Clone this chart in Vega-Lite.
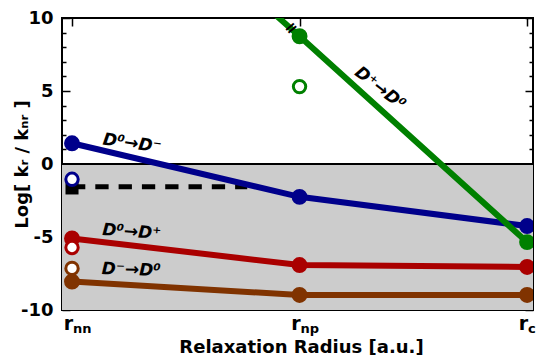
{
  "$schema": "https://vega.github.io/schema/vega-lite/v6.json",
  "width": 471,
  "height": 292,
  "autosize": {"type": "none"},
  "padding": {"left": 62, "top": 18, "right": 3, "bottom": 46},
  "config": {
    "font": "DejaVu Sans",
    "view": {"stroke": "black", "strokeWidth": 2},
    "axis": {"grid": false, "domain": false, "zindex": 1, "tickColor": "black", "tickWidth": 1.5, "labelColor": "black", "titleColor": "black"}
  },
  "datasets": {
    "lines": [
      {"series": "D0→D-", "x": 0, "y": 1.42},
      {"series": "D0→D-", "x": 1, "y": -2.25},
      {"series": "D0→D-", "x": 2, "y": -4.25},
      {"series": "D+→D0", "x": 0, "y": 22.6},
      {"series": "D+→D0", "x": 1, "y": 8.75},
      {"series": "D+→D0", "x": 2, "y": -5.35},
      {"series": "D0→D+", "x": 0, "y": -5.1},
      {"series": "D0→D+", "x": 1, "y": -6.92},
      {"series": "D0→D+", "x": 2, "y": -7.05},
      {"series": "D-→D0", "x": 0, "y": -8.05},
      {"series": "D-→D0", "x": 1, "y": -8.97},
      {"series": "D-→D0", "x": 2, "y": -8.97}
    ],
    "open": [
      {"series": "D0→D-", "x": 0, "y": -1.05},
      {"series": "D0→D+", "x": 0, "y": -5.72},
      {"series": "D-→D0", "x": 0, "y": -7.15},
      {"series": "D+→D0", "x": 1, "y": 5.3}
    ],
    "band": [{"x": -0.1, "x2": 2.1, "y": -10, "y2": 0}],
    "zero": [{"y": 0}],
    "threshold": [{"x": 0, "x2": 0.77, "y": -1.55}],
    "square": [{"x": 0, "y": -1.64}],
    "xlab": [
      {"x": 0, "main": "r", "sub": "nn"},
      {"x": 1, "main": "r", "sub": "np"},
      {"x": 2, "main": "r", "sub": "c"}
    ]
  },
  "resolve": {"axis": {"x": "independent", "y": "independent"}},
  "layer": [
    {
      "data": {"name": "band"},
      "mark": {"type": "rect", "color": "#cccccc", "clip": true},
      "encoding": {
        "x": {"field": "x", "type": "quantitative", "scale": {"domain": [-0.044, 2.026], "nice": false, "zero": false},
          "axis": {"orient": "bottom", "values": [0, 1, 2], "labels": false, "offset": -8, "tickSize": 8, "title": "Relaxation Radius [a.u.]", "titleFontSize": 18, "titleFontWeight": "bold", "titleBaseline": "alphabetic", "titleY": 50, "titleX": 239}},
        "x2": {"field": "x2"},
        "y": {"field": "y", "type": "quantitative", "scale": {"domain": [-10, 10], "nice": false, "zero": false},
          "axis": {"orient": "left", "values": [-10, -5, 0, 5, 10], "offset": -8, "tickSize": 8,
            "labelExpr": "'' + datum.value",
            "labelFontSize": 18, "labelFontWeight": "bold", "labelPadding": 9,
            "title": "Log[ kᵣ / kₙᵣ ]", "titleFontSize": 18, "titleFontWeight": "bold", "titleX": -48, "titleY": 146, "titleBaseline": "middle", "titleAngle": -90, "titleAlign": "center"}},
        "y2": {"field": "y2"}
      }
    },
    {
      "data": {"name": "zero"},
      "mark": {"type": "rule", "color": "black", "strokeWidth": 2},
      "encoding": {
        "y": {"field": "y", "type": "quantitative", "scale": {"domain": [-10, 10], "nice": false, "zero": false},
          "axis": {"orient": "left", "values": [-9,-8,-7,-6,-4,-3,-2,-1,1,2,3,4,6,7,8,9], "offset": -4, "tickSize": 4, "labels": false, "title": null}}
      }
    },
    {
      "data": {"name": "threshold"},
      "mark": {"type": "rule", "color": "black", "strokeWidth": 5, "strokeDash": [13.3, 10]},
      "encoding": {
        "x": {"field": "x", "type": "quantitative", "scale": {"domain": [-0.044, 2.026], "nice": false, "zero": false}, "axis": null},
        "x2": {"field": "x2"},
        "y": {"field": "y", "type": "quantitative", "scale": {"domain": [-10, 10], "nice": false, "zero": false}, "axis": null}
      }
    },
    {
      "data": {"name": "lines"},
      "mark": {"type": "line", "strokeWidth": 6, "clip": true},
      "encoding": {
        "x": {"field": "x", "type": "quantitative", "scale": {"domain": [-0.044, 2.026], "nice": false, "zero": false},
          "axis": {"orient": "top", "values": [0, 1, 2], "labels": false, "offset": -8, "tickSize": 8, "title": null}},
        "y": {"field": "y", "type": "quantitative", "scale": {"domain": [-10, 10], "nice": false, "zero": false},
          "axis": {"orient": "right", "values": [-10, -5, 0, 5, 10], "labels": false, "offset": -8, "tickSize": 8, "title": null}},
        "color": {"field": "series", "type": "nominal", "legend": null,
          "scale": {"domain": ["D0→D-", "D+→D0", "D0→D+", "D-→D0"], "range": ["#00008b", "#008000", "#aa0000", "#803300"]}},
        "detail": {"field": "series"}
      }
    },
    {
      "data": {"name": "lines"},
      "mark": {"type": "circle", "size": 254, "opacity": 1, "clip": true},
      "encoding": {
        "x": {"field": "x", "type": "quantitative", "scale": {"domain": [-0.044, 2.026], "nice": false, "zero": false}, "axis": null},
        "y": {"field": "y", "type": "quantitative", "scale": {"domain": [-10, 10], "nice": false, "zero": false},
          "axis": {"orient": "right", "values": [-9,-8,-7,-6,-4,-3,-2,-1,1,2,3,4,6,7,8,9], "offset": -4, "tickSize": 4, "labels": false, "title": null}},
        "color": {"field": "series", "type": "nominal", "legend": null,
          "scale": {"domain": ["D0→D-", "D+→D0", "D0→D+", "D-→D0"], "range": ["#00008b", "#008000", "#aa0000", "#803300"]}}
      }
    },
    {
      "data": {"name": "square"},
      "mark": {"type": "square", "size": 170, "color": "black", "opacity": 1, "filled": true},
      "encoding": {
        "x": {"field": "x", "type": "quantitative", "scale": {"domain": [-0.044, 2.026], "nice": false, "zero": false}, "axis": null},
        "y": {"field": "y", "type": "quantitative", "scale": {"domain": [-10, 10], "nice": false, "zero": false}, "axis": null}
      }
    },
    {
      "data": {"name": "open"},
      "mark": {"type": "circle", "size": 154, "strokeWidth": 3, "fill": "white", "fillOpacity": 1, "opacity": 1},
      "encoding": {
        "x": {"field": "x", "type": "quantitative", "scale": {"domain": [-0.044, 2.026], "nice": false, "zero": false}, "axis": null},
        "y": {"field": "y", "type": "quantitative", "scale": {"domain": [-10, 10], "nice": false, "zero": false}, "axis": null},
        "stroke": {"field": "series", "type": "nominal", "legend": null,
          "scale": {"domain": ["D0→D-", "D+→D0", "D0→D+", "D-→D0"], "range": ["#00008b", "#008000", "#aa0000", "#803300"]}}
      }
    },
    {
      "data": {"values": [{"label": "D⁰→D⁻", "x": 0.264, "y": 1.4}]},
      "mark": {"type": "text", "fontSize": 17, "fontWeight": "bold", "fontStyle": "italic", "angle": 8, "align": "center", "baseline": "middle", "color": "black"},
      "encoding": {
        "x": {"field": "x", "type": "quantitative", "scale": {"domain": [-0.044, 2.026], "nice": false, "zero": false}, "axis": null},
        "y": {"field": "y", "type": "quantitative", "scale": {"domain": [-10, 10], "nice": false, "zero": false}, "axis": null},
        "text": {"field": "label"}
      }
    },
    {
      "data": {"values": [{"label": "D⁰→D⁺", "x": 0.262, "y": -4.66}]},
      "mark": {"type": "text", "fontSize": 17, "fontWeight": "bold", "fontStyle": "italic", "angle": 4, "align": "center", "baseline": "middle", "color": "black"},
      "encoding": {
        "x": {"field": "x", "type": "quantitative", "scale": {"domain": [-0.044, 2.026], "nice": false, "zero": false}, "axis": null},
        "y": {"field": "y", "type": "quantitative", "scale": {"domain": [-10, 10], "nice": false, "zero": false}, "axis": null},
        "text": {"field": "label"}
      }
    },
    {
      "data": {"values": [{"label": "D⁻→D⁰", "x": 0.26, "y": -7.26}]},
      "mark": {"type": "text", "fontSize": 17, "fontWeight": "bold", "fontStyle": "italic", "angle": 2, "align": "center", "baseline": "middle", "color": "black"},
      "encoding": {
        "x": {"field": "x", "type": "quantitative", "scale": {"domain": [-0.044, 2.026], "nice": false, "zero": false}, "axis": null},
        "y": {"field": "y", "type": "quantitative", "scale": {"domain": [-10, 10], "nice": false, "zero": false}, "axis": null},
        "text": {"field": "label"}
      }
    },
    {
      "data": {"values": [{"label": "D⁺→D⁰", "x": 1.354, "y": 5.17}]},
      "mark": {"type": "text", "fontSize": 17, "fontWeight": "bold", "fontStyle": "italic", "angle": 38, "align": "center", "baseline": "middle", "color": "black"},
      "encoding": {
        "x": {"field": "x", "type": "quantitative", "scale": {"domain": [-0.044, 2.026], "nice": false, "zero": false}, "axis": null},
        "y": {"field": "y", "type": "quantitative", "scale": {"domain": [-10, 10], "nice": false, "zero": false}, "axis": null},
        "text": {"field": "label"}
      }
    },
    {
      "data": {"values": [{"label": "=", "x": 0.963, "y": 9.3}]},
      "mark": {"type": "text", "fontSize": 16, "fontWeight": "bold", "angle": -40, "align": "center", "baseline": "middle", "color": "black"},
      "encoding": {
        "x": {"field": "x", "type": "quantitative", "scale": {"domain": [-0.044, 2.026], "nice": false, "zero": false}, "axis": null},
        "y": {"field": "y", "type": "quantitative", "scale": {"domain": [-10, 10], "nice": false, "zero": false}, "axis": null},
        "text": {"field": "label"}
      }
    },
    {
      "data": {"name": "xlab"},
      "mark": {"type": "text", "fontSize": 19, "fontWeight": "bold", "align": "right", "baseline": "alphabetic", "dx": 1, "color": "black"},
      "encoding": {
        "x": {"field": "x", "type": "quantitative", "scale": {"domain": [-0.044, 2.026], "nice": false, "zero": false}, "axis": null},
        "y": {"datum": -11.37, "type": "quantitative", "scale": {"domain": [-10, 10], "nice": false, "zero": false}, "axis": null},
        "text": {"field": "main"}
      }
    },
    {
      "data": {"name": "xlab"},
      "mark": {"type": "text", "fontSize": 13, "fontWeight": "bold", "align": "left", "baseline": "alphabetic", "dx": 1, "dy": 3, "color": "black"},
      "encoding": {
        "x": {"field": "x", "type": "quantitative", "scale": {"domain": [-0.044, 2.026], "nice": false, "zero": false}, "axis": null},
        "y": {"datum": -11.37, "type": "quantitative", "scale": {"domain": [-10, 10], "nice": false, "zero": false}, "axis": null},
        "text": {"field": "sub"}
      }
    }
  ]
}
